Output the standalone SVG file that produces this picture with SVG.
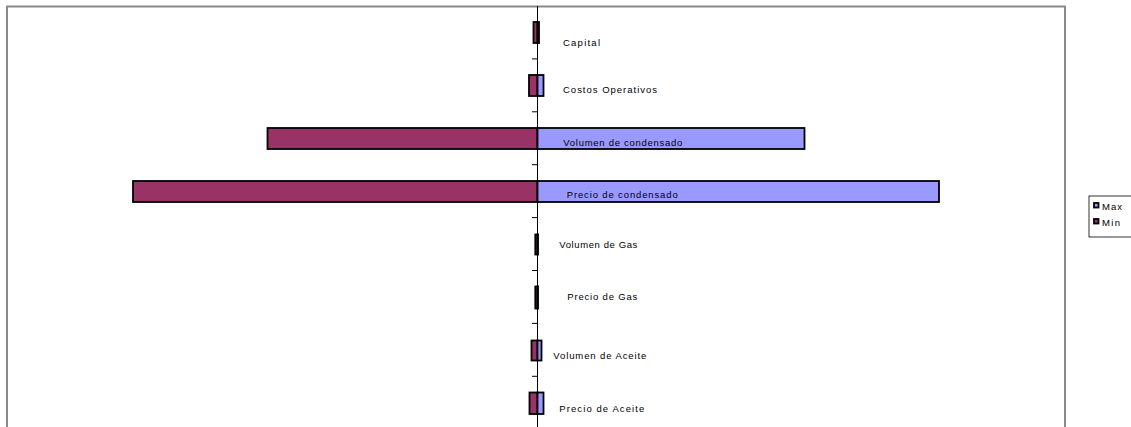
<svg xmlns="http://www.w3.org/2000/svg" width="1131" height="427" viewBox="0 0 1131 427">
  <style>
    .frame { fill: none; stroke: #8a8a8a; stroke-width: 2; }
    .axis { stroke: #000; stroke-width: 1; fill: none; }
    .min { fill: #993366; stroke: #000; stroke-width: 1.8; }
    .max { fill: #9999ff; stroke: #000; stroke-width: 1.8; }
    .lbl { font-family: "Liberation Sans", Arial, sans-serif; font-size: 9.5px; fill: #000; }
    .leg { fill: #fff; stroke: #000; stroke-width: 0.8; }
  </style>
  <rect width="1131" height="427" fill="#fff"/>

  <!-- plot area frame -->
  <rect class="frame" x="7" y="6.5" width="1058" height="440"/>

  <!-- category axis with tick marks -->
  <g id="axis">
    <line class="axis" x1="537.5" y1="6" x2="537.5" y2="427"/>
    <path class="axis" d="M532 58.9H537.5M532 111.8H537.5M532 164.7H537.5M532 217.6H537.5M532 270.5H537.5M532 323.4H537.5M532 376.3H537.5"/>
  </g>

  <g id="capital">
    <rect class="min" x="533.5" y="22" width="4" height="21"/>
    <rect class="max" x="537.5" y="22" width="1.5" height="21"/>
    <text class="lbl" x="563" y="46" textLength="37" lengthAdjust="spacing">Capital</text>
  </g>
  <g id="costos-operativos">
    <rect class="min" x="529" y="75" width="8.5" height="21"/>
    <rect class="max" x="537.5" y="75" width="6" height="21"/>
    <text class="lbl" x="563" y="92.5" textLength="94" lengthAdjust="spacing">Costos Operativos</text>
  </g>
  <g id="volumen-condensado">
    <rect class="min" x="267.5" y="128" width="270" height="21"/>
    <rect class="max" x="537.5" y="128" width="267" height="21"/>
    <text class="lbl" x="563.3" y="146" textLength="119" lengthAdjust="spacing">Volumen de condensado</text>
  </g>
  <g id="precio-condensado">
    <rect class="min" x="133" y="181" width="404.5" height="21"/>
    <rect class="max" x="537.5" y="181" width="401.5" height="21"/>
    <text class="lbl" x="566.7" y="197.5" textLength="111" lengthAdjust="spacing">Precio de condensado</text>
  </g>
  <g id="volumen-gas">
    <rect class="min" x="535.3" y="234.5" width="2.2" height="20"/>
    <rect class="max" x="537.5" y="234.5" width="0.5" height="20"/>
    <text class="lbl" x="559.3" y="247.5" textLength="78" lengthAdjust="spacing">Volumen de Gas</text>
  </g>
  <g id="precio-gas">
    <rect class="min" x="535.3" y="286.5" width="2.2" height="22"/>
    <rect class="max" x="537.5" y="286.5" width="0.5" height="22"/>
    <text class="lbl" x="567.3" y="299.5" textLength="70" lengthAdjust="spacing">Precio de Gas</text>
  </g>
  <g id="volumen-aceite">
    <rect class="min" x="531.5" y="340.5" width="6" height="20"/>
    <rect class="max" x="537.5" y="340.5" width="4" height="20"/>
    <text class="lbl" x="553.3" y="358.5" textLength="93" lengthAdjust="spacing">Volumen de Aceite</text>
  </g>
  <g id="precio-aceite">
    <rect class="min" x="529.5" y="392.5" width="8" height="21.5"/>
    <rect class="max" x="537.5" y="392.5" width="6" height="21.5"/>
    <text class="lbl" x="559.3" y="411.5" textLength="85" lengthAdjust="spacing">Precio de Aceite</text>
  </g>

  <!-- legend -->
  <g id="legend">
    <rect class="leg" x="1089" y="196" width="60" height="41"/>
    <rect class="max" x="1094" y="203" width="4.5" height="4.5" stroke-width="1.3"/>
    <text class="lbl" x="1102" y="209.5" textLength="20" lengthAdjust="spacing">Max</text>
    <rect class="min" x="1094" y="219" width="4.5" height="4.5" stroke-width="1.3"/>
    <text class="lbl" x="1102" y="225.5" textLength="18" lengthAdjust="spacing">Min</text>
  </g>
</svg>
